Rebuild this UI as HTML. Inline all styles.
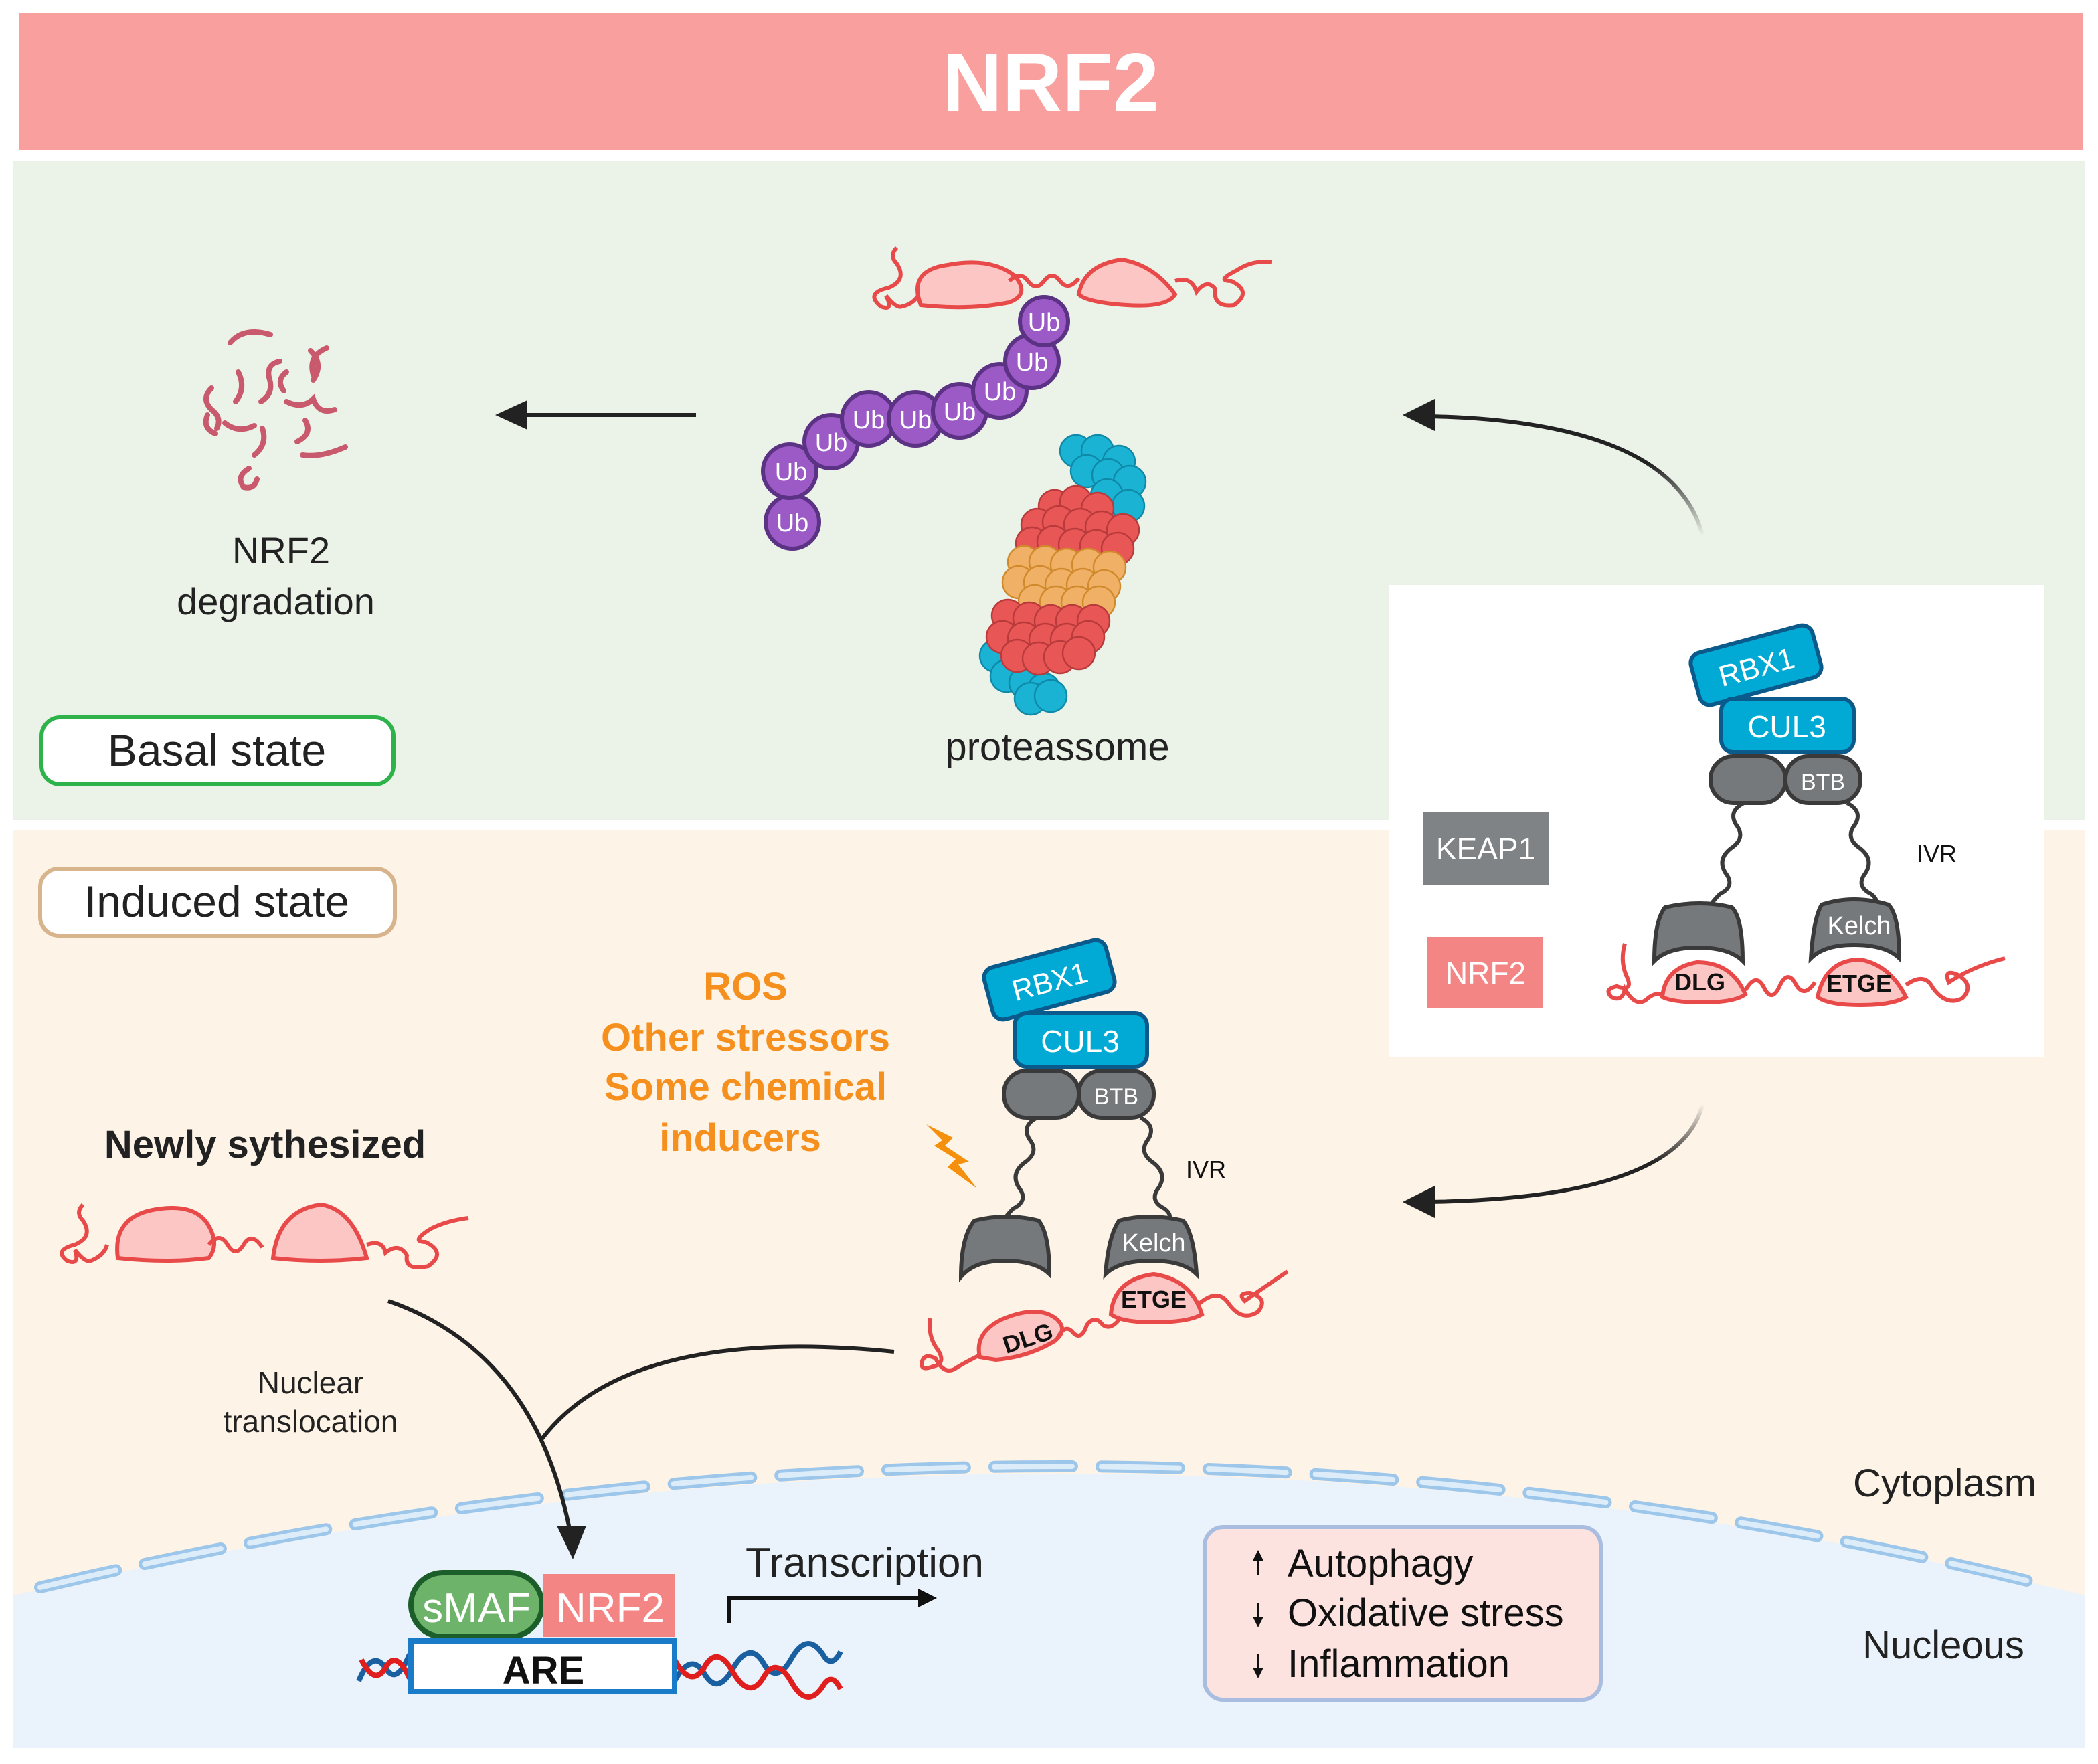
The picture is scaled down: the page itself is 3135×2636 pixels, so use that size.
<!DOCTYPE html>
<html><head><meta charset="utf-8"><style>
html,body{margin:0;padding:0;background:#fff;}
svg{display:block;}
text{font-family:"Liberation Sans",sans-serif;}
</style></head><body>
<svg width="3135" height="2636" viewBox="0 0 1567.5 1318" xmlns="http://www.w3.org/2000/svg">
<defs>
<linearGradient id="g1" x1="1" y1="1" x2="0" y2="0"><stop offset="0" stop-color="#000" stop-opacity="0"/><stop offset="0.5" stop-color="#000"/><stop offset="1" stop-color="#000"/></linearGradient>
<linearGradient id="g2" x1="0" y1="1" x2="0" y2="0"><stop offset="0" stop-color="#222" stop-opacity="0"/><stop offset="0.6" stop-color="#222"/><stop offset="1" stop-color="#222"/></linearGradient>
<linearGradient id="g3" x1="0" y1="0" x2="0" y2="1"><stop offset="0" stop-color="#222" stop-opacity="0"/><stop offset="0.6" stop-color="#222"/><stop offset="1" stop-color="#222"/></linearGradient>
<g id="top">
 <g transform="rotate(-15 1312 497)"><rect x="1265" y="477" width="94" height="40" rx="8" fill="#00aad4" stroke="#0b5a8c" stroke-width="3"/><text x="1312" y="506" font-size="22" fill="#fff" text-anchor="middle">RBX1</text></g>
 <rect x="1286" y="522" width="99" height="40" rx="9" fill="#00aad4" stroke="#0b5a8c" stroke-width="3"/>
 <text x="1335" y="551" font-size="23" fill="#fff" text-anchor="middle">CUL3</text>
 <rect x="1278" y="565" width="56" height="35" rx="17" fill="#76797b" stroke="#3a3a3a" stroke-width="3"/>
 <rect x="1334" y="565" width="56" height="35" rx="17" fill="#76797b" stroke="#3a3a3a" stroke-width="3"/>
 <text x="1362" y="590" font-size="17" fill="#fff" text-anchor="middle">BTB</text>
 <path d="M1303 600 q-12 6 -6 16 q8 10 -4 18 q-10 8 -4 18 q8 10 -4 16 q-6 6 -8 10" fill="none" stroke="#3a3a3a" stroke-width="3"/>
 <path d="M1380 600 q12 6 6 16 q-8 10 4 18 q10 8 4 18 q-8 10 4 16 q8 6 0 12" fill="none" stroke="#3a3a3a" stroke-width="3"/>
</g>
</defs>
<rect x="14" y="10" width="1542" height="102" fill="#f9a09f"/>
<text x="785" y="83" font-size="62" font-weight="bold" fill="#fff" text-anchor="middle">NRF2</text>
<rect x="10" y="120" width="1548" height="493" fill="#ebf2e8"/>
<rect x="10" y="620" width="1548" height="686" fill="#fdf3e7"/>
<path d="M10 1192 Q 800 1010 1558 1192 L1558 1306 L10 1306 Z" fill="#eaf3fb"/>
<path d="M30 1186 Q 800 1005 1535 1186" fill="none" stroke="#9cc6ea" stroke-width="9" stroke-dasharray="58 22" stroke-linecap="round"/>
<path d="M30 1186 Q 800 1005 1535 1186" fill="none" stroke="#dcecf9" stroke-width="4" stroke-dasharray="58 22" stroke-linecap="round"/>
<rect x="1038" y="437" width="489" height="353" fill="#fff"/>

<rect x="31" y="536" width="263" height="50" rx="14" fill="#fff" stroke="#2db34a" stroke-width="3"/>
<text x="162" y="572" font-size="33" fill="#222" text-anchor="middle">Basal state</text>
<rect x="30" y="649" width="265" height="50" rx="14" fill="#fff" stroke="#d8b48c" stroke-width="3"/>
<text x="162" y="685" font-size="33" fill="#222" text-anchor="middle">Induced state</text>

<g fill="none" stroke="#c9596c" stroke-width="4" stroke-linecap="round">
<path d="M172 256 q10 -12 30 -6"/><path d="M158 290 q-8 8 0 16 q8 6 4 14"/><path d="M178 278 q6 12 -2 22"/>
<path d="M195 300 q10 -6 6 -18 q-2 -10 8 -12"/><path d="M232 262 q10 10 2 22"/><path d="M244 260 q-14 6 -10 20"/>
<path d="M214 300 q12 6 20 -2 q4 12 16 8"/><path d="M168 316 q10 8 22 2"/><path d="M196 320 q4 12 -6 20"/>
<path d="M228 314 q6 10 -6 16"/><path d="M226 340 q14 2 32 -6"/><path d="M186 350 q-10 6 -4 14 q8 2 10 -6"/>
<path d="M155 310 q-4 10 6 14"/><path d="M214 278 q-8 6 -2 14"/>
</g>
<text x="210" y="421" font-size="28" fill="#222" text-anchor="middle">NRF2</text>
<text x="206" y="459" font-size="28" fill="#222" text-anchor="middle">degradation</text>
<line x1="520" y1="310" x2="388" y2="310" stroke="#222" stroke-width="3"/>
<polygon points="370,310 394,299 394,321" fill="#222"/>

<g stroke="#e84a4a" stroke-width="3" fill="none">
<path d="M670 185 q-6 6 0 12 q8 12 -6 18 q-18 4 -6 14 q10 4 4 -8 q8 10 12 8 q10 -2 14 -12 q12 -2 -2 -4"/>
<path d="M688 228 q-10 -26 20 -30 q32 -6 50 8 q12 14 -4 20 q-30 6 -66 2 z" fill="#fcc6c4"/>
<path d="M754 210 q8 -8 14 0 q6 8 12 0 q6 -8 12 0 q6 8 14 -2"/>
<path d="M806 220 q4 -22 32 -26 q24 4 40 26 q-6 10 -36 8 q-30 -2 -36 -8 z" fill="#fcc6c4"/>
<path d="M878 210 q12 -4 16 8 q8 -10 14 -2 q-2 14 14 12 q14 -10 -2 -18 q-12 0 4 -8 q12 -8 26 -6"/>
</g>
<g fill="#9b5ac6" stroke="#5c3285" stroke-width="3">
<circle cx="592" cy="390" r="20"/><circle cx="590" cy="352" r="20"/><circle cx="621" cy="330" r="20"/><circle cx="649" cy="313" r="20"/><circle cx="684" cy="313" r="20"/><circle cx="717" cy="307" r="20"/><circle cx="747" cy="292" r="20"/><circle cx="771" cy="270" r="20"/><circle cx="780" cy="240" r="18"/>
</g>
<g font-size="19" fill="#fff" text-anchor="middle">
<text x="592" y="397">Ub</text><text x="591" y="359">Ub</text><text x="621" y="337">Ub</text><text x="649" y="320">Ub</text><text x="684" y="320">Ub</text><text x="717" y="314">Ub</text><text x="747" y="299">Ub</text><text x="771" y="277">Ub</text><text x="780" y="247">Ub</text>
</g>
<!-- proteasome -->
<g stroke-width="1.2">
<g fill="#1ab3d3" stroke="#0f89a8">
<circle cx="804" cy="337" r="12"/><circle cx="820" cy="337" r="12"/><circle cx="836" cy="345" r="12"/>
<circle cx="812" cy="352" r="12"/><circle cx="828" cy="355" r="12"/><circle cx="844" cy="360" r="12"/>
<circle cx="827" cy="370" r="12"/><circle cx="843" cy="378" r="12"/>
<circle cx="744" cy="490" r="12"/><circle cx="752" cy="505" r="12"/><circle cx="766" cy="510" r="12"/><circle cx="780" cy="515" r="12"/><circle cx="770" cy="522" r="12"/><circle cx="785" cy="520" r="12"/>
</g>
<g fill="#e85656" stroke="#b83a3a">
<circle cx="788" cy="378" r="12"/><circle cx="804" cy="375" r="12"/><circle cx="820" cy="380" r="12"/>
<circle cx="775" cy="392" r="12"/><circle cx="791" cy="390" r="12"/><circle cx="807" cy="392" r="12"/><circle cx="823" cy="394" r="12"/><circle cx="839" cy="396" r="12"/>
<circle cx="771" cy="406" r="12"/><circle cx="787" cy="405" r="12"/><circle cx="803" cy="407" r="12"/><circle cx="819" cy="408" r="12"/><circle cx="835" cy="410" r="12"/>
</g>
<g fill="#f0b066" stroke="#d08a2c">
<circle cx="765" cy="420" r="12"/><circle cx="781" cy="420" r="12"/><circle cx="797" cy="422" r="12"/><circle cx="813" cy="422" r="12"/><circle cx="829" cy="424" r="12"/>
<circle cx="761" cy="435" r="12"/><circle cx="777" cy="435" r="12"/><circle cx="793" cy="437" r="12"/><circle cx="809" cy="437" r="12"/><circle cx="825" cy="438" r="12"/>
<circle cx="773" cy="449" r="12"/><circle cx="789" cy="450" r="12"/><circle cx="805" cy="450" r="12"/><circle cx="821" cy="450" r="12"/>
</g>
<g fill="#e85656" stroke="#b83a3a">
<circle cx="753" cy="460" r="12"/><circle cx="769" cy="462" r="12"/><circle cx="785" cy="464" r="12"/><circle cx="801" cy="464" r="12"/><circle cx="817" cy="464" r="12"/>
<circle cx="749" cy="476" r="12"/><circle cx="765" cy="477" r="12"/><circle cx="781" cy="478" r="12"/><circle cx="797" cy="478" r="12"/><circle cx="813" cy="476" r="12"/>
<circle cx="760" cy="490" r="12"/><circle cx="776" cy="492" r="12"/><circle cx="792" cy="491" r="12"/><circle cx="806" cy="488" r="12"/>
</g>
</g>
<text x="790" y="568" font-size="29" fill="#222" text-anchor="middle">proteassome</text>

<path d="M1272 400 Q 1250 315 1068 311" fill="none" stroke="url(#g2)" stroke-width="3"/>
<polygon points="1048,310 1072,298 1072,322" fill="#222"/>
<path d="M1272 825 Q 1255 895 1068 898" fill="none" stroke="url(#g3)" stroke-width="3"/>
<polygon points="1048,898 1072,886 1072,910" fill="#222"/>

<rect x="1063" y="607" width="94" height="54" fill="#7f8385"/>
<text x="1110" y="642" font-size="23" fill="#fff" text-anchor="middle">KEAP1</text>
<rect x="1066" y="700" width="87" height="53" fill="#f48585"/>
<text x="1110" y="735" font-size="23" fill="#fff" text-anchor="middle">NRF2</text>

<use href="#top"/>
<text x="1432" y="644" font-size="18" fill="#111">IVR</text>
<path d="M1236 718 q0 -30 8 -40 q26 -6 50 0 q8 8 8 40 q-10 -10 -34 -10 q-22 0 -32 10z" fill="#76797b" stroke="#3a3a3a" stroke-width="3"/>
<path d="M1353 716 q2 -30 8 -40 q24 -8 50 0 q8 8 8 40 q-10 -10 -34 -10 q-22 0 -32 10z" fill="#76797b" stroke="#3a3a3a" stroke-width="3"/>
<text x="1389" y="698" font-size="19" fill="#fff" text-anchor="middle">Kelch</text>
<g stroke="#e84a4a" stroke-width="3" fill="none">
<path d="M1214 705 q-4 14 2 26 q4 10 -8 6 q-10 2 -4 8 q8 4 10 -6 q8 14 16 8 q6 -6 14 -4"/>
<path d="M1242 745 q2 -22 26 -26 q26 0 36 24 q-8 6 -32 6 q-22 0 -30 -4 z" fill="#fcc6c4"/>
<path d="M1304 740 q8 -14 14 -2 q6 12 12 -2 q6 -12 12 0 q6 10 14 -2"/>
<path d="M1358 745 q6 -28 32 -28 q22 4 34 28 q-10 6 -34 6 q-24 0 -32 -6 z" fill="#fcc6c4"/>
<path d="M1424 736 q14 -10 20 2 q10 14 22 8 q10 -10 -4 -18 q-10 -4 -6 6 q18 -12 42 -18"/>
</g>
<text x="1270" y="740" font-size="18" font-weight="bold" fill="#111" text-anchor="middle">DLG</text>
<text x="1389" y="741" font-size="18" font-weight="bold" fill="#111" text-anchor="middle">ETGE</text>

<use href="#top" transform="translate(-528 235)"/>
<text x="886" y="880" font-size="18" fill="#111">IVR</text>
<polygon points="692,840 712,850 706,856 724,868 716,870 730,888 708,872 714,866 698,856 704,852" fill="#f5900c"/>
<path d="M718 954 q0 -30 10 -42 q24 -6 48 0 q8 10 8 40 q-10 -10 -34 -10 q-22 0 -32 12z" fill="#76797b" stroke="#3a3a3a" stroke-width="3"/>
<path d="M826 952 q2 -28 10 -40 q22 -6 48 0 q8 10 10 40 q-10 -10 -34 -10 q-24 0 -34 10z" fill="#76797b" stroke="#3a3a3a" stroke-width="3"/>
<text x="862" y="935" font-size="19" fill="#fff" text-anchor="middle">Kelch</text>
<g stroke="#e84a4a" stroke-width="3" fill="none">
<path d="M695 985 q-2 14 6 24 q6 10 -4 12 q-10 4 -8 -4 q2 -6 10 -2 q6 12 14 8 q6 -4 18 -10"/>
<path d="M732 1014 q-4 -18 16 -28 q28 -12 42 0 q8 8 -2 16 q-20 12 -44 14 z" fill="#fcc6c4"/>
<path d="M790 1000 q6 -12 12 -4 q6 6 10 -6 q6 -8 12 0 q6 4 12 -4"/>
<path d="M830 982 q2 -26 32 -30 q28 4 36 30 q-10 6 -36 6 q-24 0 -32 -6 z" fill="#fcc6c4"/>
<path d="M896 974 q14 -12 22 0 q10 14 22 6 q8 -10 -6 -14 q-10 0 -4 6 q14 -10 32 -22"/>
</g>
<text x="768" y="1006" font-size="18" font-weight="bold" fill="#111" text-anchor="middle" transform="rotate(-18 768 1000)">DLG</text>
<text x="862" y="977" font-size="18" font-weight="bold" fill="#111" text-anchor="middle">ETGE</text>

<g font-size="29" font-weight="bold" fill="#f5901e" text-anchor="middle">
<text x="557" y="747">ROS</text><text x="557" y="785">Other stressors</text><text x="557" y="822">Some chemical</text><text x="553" y="860">inducers</text>
</g>

<text x="198" y="865" font-size="29" font-weight="bold" fill="#222" text-anchor="middle">Newly sythesized</text>
<g stroke="#e84a4a" stroke-width="3" fill="none">
<path d="M62 900 q-6 6 0 12 q8 12 -6 18 q-16 4 -6 12 q10 4 6 -8 q8 10 12 8 q10 -4 12 -12"/>
<path d="M88 940 q-4 -30 26 -36 q32 -6 42 12 q8 14 0 24 q-30 4 -68 0 z" fill="#fcc6c4"/>
<path d="M156 930 q8 -10 14 0 q6 10 12 0 q6 -10 14 2"/>
<path d="M204 940 q4 -36 36 -40 q24 4 34 40 q-34 4 -70 0 z" fill="#fcc6c4"/>
<path d="M274 930 q12 -4 14 6 q10 -8 16 2 q-2 12 16 8 q14 -10 -2 -18 q-12 0 4 -10 q12 -6 28 -8"/>
</g>
<text x="232" y="1041" font-size="23" fill="#222" text-anchor="middle">Nuclear</text>
<text x="232" y="1070" font-size="23" fill="#222" text-anchor="middle">translocation</text>
<path d="M290 972 Q 400 1010 426 1145" fill="none" stroke="#222" stroke-width="3"/>
<path d="M668 1010 Q 470 990 405 1075" fill="none" stroke="#222" stroke-width="3"/>
<polygon points="428,1165 416,1140 438,1140" fill="#222"/>

<rect x="307" y="1175" width="98" height="48" rx="24" fill="#6db46a" stroke="#1c5e2a" stroke-width="4"/>
<text x="356" y="1212" font-size="31" fill="#fff" text-anchor="middle">sMAF</text>
<rect x="406" y="1176" width="98" height="47" fill="#f48585"/>
<text x="456" y="1212" font-size="31" fill="#fff" text-anchor="middle">NRF2</text>
<g fill="none" stroke-width="4">
<path d="M268 1256 q10 -24 20 -10 q8 14 18 -10" stroke="#1a5fa0"/>
<path d="M270 1240 q10 20 18 6 q8 -14 18 8" stroke="#e01e1e"/>
<path d="M504 1256 q12 -22 22 -6 q10 18 22 -4 q12 -20 22 -4 q10 18 22 -4 q12 -20 24 0 q6 8 12 -4" stroke="#1a5fa0"/>
<path d="M504 1240 q12 22 22 6 q10 -18 22 4 q12 20 22 4 q10 -18 22 4 q12 20 24 0 q6 -8 12 4" stroke="#e01e1e"/>
</g>
<rect x="307" y="1226" width="197" height="38" fill="#fff" stroke="#1a7cc8" stroke-width="4"/>
<text x="406" y="1258" font-size="29" font-weight="bold" fill="#111" text-anchor="middle">ARE</text>
<text x="646" y="1178" font-size="31" fill="#222" text-anchor="middle">Transcription</text>
<path d="M545 1213 V1194 H690" fill="none" stroke="#111" stroke-width="3"/>
<polygon points="700,1194 686,1187 686,1201" fill="#111"/>

<rect x="900" y="1141" width="296" height="129" rx="14" fill="#fde3df" stroke="#a9bde0" stroke-width="3"/>
<g font-size="29" fill="#111"><text x="962" y="1178">Autophagy</text><text x="962" y="1215">Oxidative stress</text><text x="962" y="1253">Inflammation</text></g>
<g stroke="#111" stroke-width="2"><line x1="940" y1="1177" x2="940" y2="1162"/><line x1="940" y1="1198" x2="940" y2="1213"/><line x1="940" y1="1236" x2="940" y2="1251"/></g>
<polygon points="940,1158 936,1166 944,1166" fill="#111"/><polygon points="940,1216 936,1208 944,1208" fill="#111"/><polygon points="940,1254 936,1246 944,1246" fill="#111"/>

<text x="1453" y="1118" font-size="29" fill="#222" text-anchor="middle">Cytoplasm</text>
<text x="1452" y="1239" font-size="29" fill="#222" text-anchor="middle">Nucleous</text>
</svg>
</body></html>
